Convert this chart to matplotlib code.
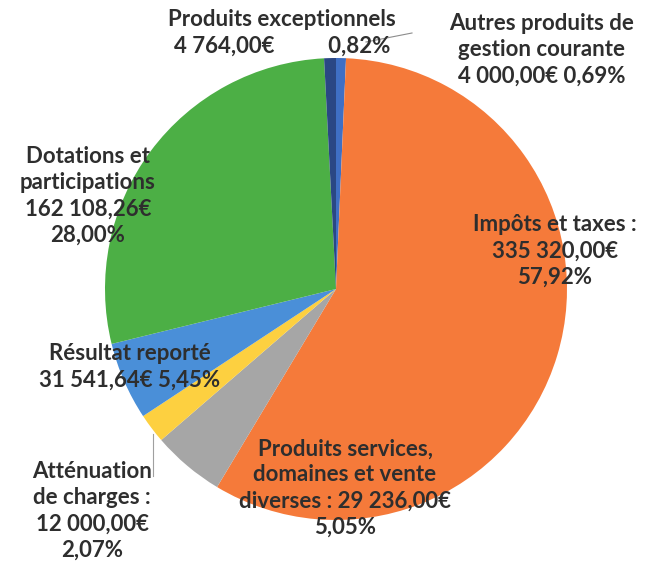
import matplotlib.pyplot as plt

# produits de fonctionnement (ordre Excel, depuis midi, sens horaire)
categories = ["Autres produits de gestion courante", "Impôts et taxes",
              "Produits services, domaines et vente diverses",
              "Atténuation de charges", "Résultat reporté",
              "Dotations et participations", "Produits exceptionnels"]
values = [4000.00, 335320.00, 29236.00, 12000.00, 31541.64, 162108.26, 4764.00]
labels = ["Autres produits de\ngestion courante\n4 000,00€ 0,69%",
          "Impôts et taxes :\n335 320,00€\n57,92%",
          "Produits services,\ndomaines et vente\ndiverses : 29 236,00€\n5,05%",
          "Atténuation\nde charges :\n12 000,00€\n2,07%",
          "Résultat reporté\n31 541,64€ 5,45%",
          "Dotations et\nparticipations\n162 108,26€\n28,00%",
          "Produits exceptionnels\n4 764,00€          0,82%"]
colors = ["#3f6fc4", "#f57a3a", "#a6a6a6", "#fdd040", "#4a8fd8", "#4caf45", "#2a4784"]

# label centres in pixels (x, y from top)
label_pos = [(542, 50), (555, 251), (345, 488), (92, 511), (130, 367),
             (88, 196), (282, 33)]

W, H = 663, 573
fig = plt.figure(figsize=(W / 100, H / 100), dpi=100)
ax = fig.add_axes([0, 0, 1, 1])

cx, cy, r = 336, 289, 231
ax.pie(values, colors=colors, startangle=90, counterclock=False,
       center=(cx, H - cy), radius=r, wedgeprops=dict(linewidth=0))

for lab, (x, y) in zip(labels, label_pos):
    ax.text(x, H - y, lab, ha="center", va="center", fontsize=16,
            fontweight="bold", family="Lato", color="#2e2e2e",
            linespacing=1.3)

# leader lines
ax.plot([412, 366], [H - 33, H - 42], color="#8c8c8c", lw=0.8)
ax.plot([153, 153], [H - 434, H - 476], color="#a0a0a0", lw=0.8)

ax.set_xlim(0, W)
ax.set_ylim(0, H)
ax.set_aspect("equal")
ax.axis("off")

fig.savefig("out.png", dpi=100)
